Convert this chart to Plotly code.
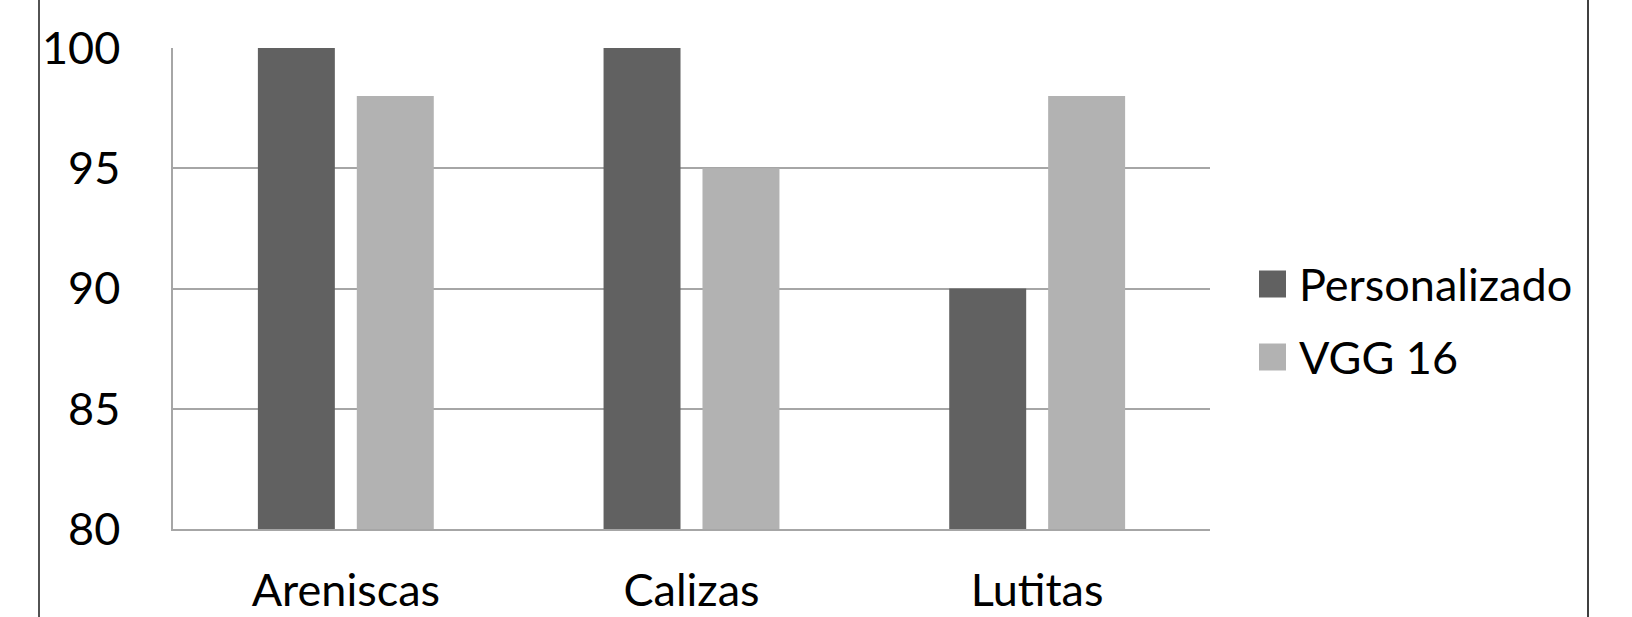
import plotly.graph_objects as go

# Accuracy per rock type for each model
categories = ["Areniscas", "Calizas", "Lutitas"]
series_names = ["Personalizado", "VGG 16"]
personalizado = [100, 100, 90]
vgg16 = [98, 95, 98]
y_ticks = [80, 85, 90, 95, 100]

colors = ["#616161", "#b2b2b2"]
FONT = "Lato"
FONT_SIZE = 45

W, H = 1632, 617
# plot area in pixels
PL, PR, PT, PB = 173, 1210, 48, 529
pw, ph = PR - PL, PB - PT


def px_x(x):
    return (x - PL) / pw


def px_y(y):
    return (PB - y) / ph


fig = go.Figure()
for name, vals, col in zip(series_names, [personalizado, vgg16], colors):
    fig.add_trace(go.Bar(x=categories, y=vals, name=name, marker_color=col,
                         marker_line_width=0, showlegend=False))

fig.update_layout(
    width=W, height=H,
    margin=dict(l=PL, r=W - PR, t=PT, b=H - PB, pad=0, autoexpand=False),
    paper_bgcolor="white", plot_bgcolor="white",
    barmode="group", bargap=0.4276, bargroupgap=0.222,
    font=dict(family=FONT, size=FONT_SIZE, color="#000000"),
)
fig.update_yaxes(range=[80, 100], tickvals=y_ticks, showgrid=True,
                 gridcolor="#a6a6a6", gridwidth=1.5, zeroline=False,
                 showline=True, linecolor="#a6a6a6", linewidth=1.5,
                 ticks="", ticklabelstandoff=42, automargin=False, fixedrange=True)
fig.update_xaxes(showgrid=False, showline=True, linecolor="#a6a6a6",
                 linewidth=1.5, ticks="", ticklabelstandoff=21, automargin=False,
                 fixedrange=True)

# chart frame (left and right edges)
fig.add_shape(type="line", xref="paper", yref="paper", x0=px_x(39), x1=px_x(39),
              y0=px_y(-10), y1=px_y(H + 10), line=dict(color="#1a1a1a", width=1.5))
fig.add_shape(type="line", xref="paper", yref="paper", x0=px_x(1588), x1=px_x(1588),
              y0=px_y(-10), y1=px_y(H + 10), line=dict(color="#404040", width=2))

# legend: swatches and labels
leg_x0, sw = 1259, 27
leg_rows = [284, 357]
for name, col, yc in zip(series_names, colors, leg_rows):
    fig.add_shape(type="rect", xref="paper", yref="paper",
                  x0=px_x(leg_x0), x1=px_x(leg_x0 + sw),
                  y0=px_y(yc + sw / 2), y1=px_y(yc - sw / 2),
                  fillcolor=col, line_width=0)
    fig.add_annotation(xref="paper", yref="paper", x=px_x(leg_x0 + sw + 11),
                       y=px_y(yc), text=name, showarrow=False, xanchor="left",
                       yanchor="middle", font=dict(family=FONT, size=FONT_SIZE))

fig.write_html("out.html")
